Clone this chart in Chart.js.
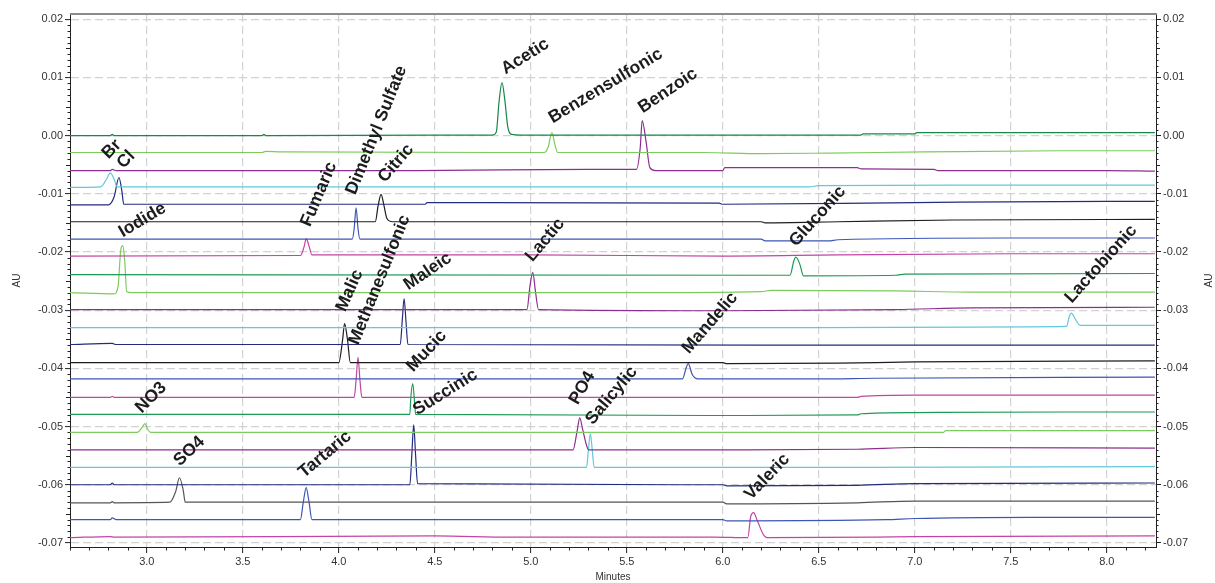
<!DOCTYPE html>
<html>
<head>
<meta charset="utf-8">
<script src="https://cdn.jsdelivr.net/npm/chart.js@4.4.1/dist/chart.umd.min.js"></script>
<style>
  html, body { margin: 0; padding: 0; background: #fff; }
  #chromChart { display: block; }
</style>
</head>
<body>
<canvas id="chromChart" width="1215" height="583" style="width:1215px;height:583px"></canvas>
<script>
// axis ticks
const xTicks = [3.0, 3.5, 4.0, 4.5, 5.0, 5.5, 6.0, 6.5, 7.0, 7.5, 8.0];
const yTicks = [0.02, 0.01, 0.00, -0.01, -0.02, -0.03, -0.04, -0.05, -0.06, -0.07];

// traces as [minutes, AU]
const acetic = [[2.6, 0.0], [2.81, 0.0], [2.82, 0.0002], [2.83, 0.0], [3.6, 0.0], [3.61, 0.0002], [3.62, 0.0], [4.80, 0.0001], [4.82, 0.0006], [4.835, 0.006], [4.85, 0.0091], [4.865, 0.006], [4.88, 0.0015], [4.9, 0.0002], [4.95, 0.0001], [6.72, 0.0001], [6.73, 0.0003], [7.0, 0.0003], [7.01, 0.0005], [8.25, 0.0005]];
const benzensulfonic = [[2.6, -0.0029], [3.6, -0.0029], [3.62, -0.0027], [3.7, -0.0028], [5.07, -0.0029], [5.09, -0.002], [5.11, 0.0005], [5.125, -0.0015], [5.14, -0.0029], [5.9, -0.0029], [6.2, -0.0031], [6.55, -0.003], [7.05, -0.0028], [7.75, -0.0026], [8.25, -0.0026]];
const benzoic = [[2.6, -0.006], [2.81, -0.006], [2.82, -0.0058], [2.84, -0.006], [4.4, -0.006], [5.3, -0.0058], [5.55, -0.0058], [5.57, -0.002], [5.58, 0.0026], [5.6, -0.001], [5.62, -0.0055], [5.65, -0.006], [6.0, -0.006], [6.01, -0.0055], [6.7, -0.0055], [6.72, -0.0057], [7.1, -0.0058], [7.12, -0.006], [8.0, -0.006], [8.25, -0.0061]];
const br = [[2.6, -0.0089], [2.76, -0.0088], [2.79, -0.0075], [2.81, -0.0064], [2.83, -0.0075], [2.845, -0.0088], [4.5, -0.0088], [6.45, -0.0088], [6.5, -0.0086], [7.2, -0.0085], [8.25, -0.0085]];
const cl = [[2.6, -0.0119], [2.8, -0.0119], [2.83, -0.0105], [2.855, -0.0072], [2.87, -0.0095], [2.88, -0.0118], [4.45, -0.0118], [4.46, -0.0115], [5.98, -0.0116], [6.0, -0.0118], [7.0, -0.0115], [8.0, -0.0113], [8.25, -0.0113]];
const citric = [[2.6, -0.0148], [4.19, -0.0148], [4.205, -0.012], [4.22, -0.0101], [4.235, -0.012], [4.25, -0.0142], [4.28, -0.0148], [6.2, -0.0148], [6.22, -0.015], [6.6, -0.0148], [7.2, -0.0145], [8.25, -0.0144]];
const dimethylSulfate = [[2.6, -0.0178], [4.07, -0.0178], [4.08, -0.016], [4.09, -0.0124], [4.1, -0.016], [4.11, -0.0178], [6.2, -0.0178], [6.22, -0.0181], [6.55, -0.0181], [6.6, -0.0179], [7.5, -0.0176], [8.25, -0.0176]];
const fumaric = [[2.6, -0.0207], [3.8, -0.0206], [3.82, -0.019], [3.83, -0.0177], [3.845, -0.019], [3.86, -0.0205], [5.0, -0.0205], [6.0, -0.0207], [6.6, -0.0205], [7.5, -0.0203], [8.25, -0.0203]];
const gluconic = [[2.6, -0.0239], [6.35, -0.024], [6.37, -0.0215], [6.38, -0.0209], [6.40, -0.022], [6.42, -0.0241], [6.9, -0.024], [6.95, -0.0238], [8.25, -0.0237]];
const iodide = [[2.6, -0.027], [2.83, -0.0272], [2.85, -0.026], [2.865, -0.0195], [2.875, -0.0189], [2.885, -0.0215], [2.895, -0.0268], [2.92, -0.027], [5.5, -0.027], [6.2, -0.0268], [6.25, -0.0266], [6.9, -0.0267], [7.3, -0.0269], [8.25, -0.0269]];
const lactic = [[2.6, -0.0299], [4.98, -0.0299], [4.995, -0.026], [5.01, -0.0235], [5.025, -0.027], [5.04, -0.0299], [6.0, -0.0301], [6.9, -0.0299], [7.3, -0.0296], [8.25, -0.0295]];
const lactobionic = [[2.6, -0.033], [6.5, -0.033], [7.3, -0.0329], [7.79, -0.0328], [7.805, -0.031], [7.815, -0.0305], [7.84, -0.0318], [7.86, -0.0326], [8.25, -0.0326]];
const maleic = [[2.6, -0.0359], [2.82, -0.0357], [2.84, -0.0359], [4.32, -0.0359], [4.33, -0.032], [4.34, -0.028], [4.35, -0.032], [4.36, -0.0359], [6.8, -0.036], [8.25, -0.036]];
const malic = [[2.6, -0.039], [4.0, -0.039], [4.02, -0.035], [4.03, -0.0323], [4.045, -0.035], [4.06, -0.039], [6.0, -0.039], [6.02, -0.0392], [6.6, -0.0391], [7.0, -0.0389], [8.25, -0.0387]];
const mandelic = [[2.6, -0.0418], [5.79, -0.0418], [5.81, -0.0398], [5.82, -0.0392], [5.84, -0.041], [5.87, -0.0418], [6.5, -0.0418], [6.8, -0.0417], [8.25, -0.0415]];
const methanesulfonic = [[2.6, -0.045], [2.81, -0.045], [2.82, -0.0448], [2.83, -0.045], [4.08, -0.045], [4.09, -0.042], [4.10, -0.0381], [4.11, -0.042], [4.12, -0.045], [6.7, -0.045], [6.72, -0.0448], [7.0, -0.0446], [8.25, -0.0446]];
const mucic = [[2.6, -0.0479], [4.37, -0.0479], [4.375, -0.045], [4.385, -0.0426], [4.395, -0.046], [4.4, -0.0479], [6.0, -0.0481], [6.7, -0.048], [6.72, -0.0478], [7.0, -0.0476], [7.8, -0.0475], [8.25, -0.0475]];
const no3 = [[2.6, -0.051], [2.95, -0.051], [2.975, -0.0502], [2.99, -0.0495], [3.005, -0.0505], [3.02, -0.051], [7.15, -0.051], [7.16, -0.0507], [8.25, -0.0507]];
const po4 = [[2.6, -0.054], [5.22, -0.054], [5.24, -0.051], [5.255, -0.0485], [5.27, -0.0505], [5.29, -0.0532], [5.3, -0.054], [6.0, -0.054], [6.7, -0.0539], [7.0, -0.0536], [8.25, -0.0537]];
const salicylic = [[2.6, -0.057], [5.29, -0.057], [5.3, -0.054], [5.31, -0.0512], [5.32, -0.054], [5.33, -0.057], [6.7, -0.057], [8.25, -0.0569]];
const succinic = [[2.6, -0.06], [2.81, -0.06], [2.82, -0.0597], [2.83, -0.06], [4.37, -0.06], [4.38, -0.055], [4.39, -0.0497], [4.40, -0.055], [4.41, -0.0598], [6.0, -0.06], [6.02, -0.0602], [6.7, -0.0601], [7.0, -0.0598], [8.25, -0.0597]];
const so4 = [[2.6, -0.0631], [2.81, -0.0631], [2.82, -0.0629], [2.83, -0.0631], [3.12, -0.063], [3.15, -0.0612], [3.17, -0.0588], [3.19, -0.061], [3.2, -0.063], [6.0, -0.063], [6.02, -0.0633], [6.7, -0.0631], [7.0, -0.0628], [8.25, -0.0628]];
const tartaric = [[2.6, -0.066], [2.81, -0.066], [2.82, -0.0657], [2.84, -0.066], [3.8, -0.066], [3.815, -0.063], [3.83, -0.0605], [3.845, -0.063], [3.86, -0.066], [6.0, -0.066], [6.02, -0.0662], [6.85, -0.066], [7.0, -0.0658], [7.6, -0.0656], [8.25, -0.0656]];
const valeric = [[2.6, -0.0691], [2.81, -0.0689], [2.83, -0.069], [4.5, -0.0688], [4.9, -0.069], [5.95, -0.069], [6.13, -0.0691], [6.145, -0.0655], [6.16, -0.0648], [6.18, -0.0662], [6.21, -0.0685], [6.23, -0.0691], [6.8, -0.069], [7.0, -0.0689], [8.25, -0.0688]];

const traces = [acetic, benzensulfonic, benzoic, br, cl, citric, dimethylSulfate, fumaric,
  gluconic, iodide, lactic, lactobionic, maleic, malic, mandelic, methanesulfonic,
  mucic, no3, po4, salicylic, succinic, so4, tartaric, valeric];
const names = ['Acetic', 'Benzensulfonic', 'Benzoic', 'Br', 'Cl', 'Citric', 'Dimethyl Sulfate', 'Fumaric',
  'Gluconic', 'Iodide', 'Lactic', 'Lactobionic', 'Maleic', 'Malic', 'Mandelic', 'Methanesulfonic',
  'Mucic', 'NO3', 'PO4', 'Salicylic', 'Succinic', 'SO4', 'Tartaric', 'Valeric'];

// where each peak name starts (minutes, AU) and its slant in degrees
const labelX = [4.868, 5.114, 5.583, 2.8, 2.878, 4.24, 4.086, 3.85, 6.382, 2.875, 5.009, 7.817,
  4.362, 4.033, 5.824, 4.101, 4.388, 2.974, 5.244, 5.323, 4.409, 3.172, 3.819, 6.147];
const labelY = [0.0105, 0.0021, 0.0038, -0.0041, -0.0058, -0.0082, -0.0103, -0.0158, -0.0192, -0.0175, -0.0218, -0.0289,
  -0.0266, -0.0304, -0.0376, -0.0361, -0.0407, -0.0478, -0.0464, -0.0498, -0.0481, -0.0569, -0.0589, -0.0627];
const labelAngle = [-32, -31, -34, -46, -46, -49, -68, -67, -48, -31, -50, -48,
  -34, -66, -49, -68, -47, -45, -60, -50, -32, -43, -40, -46];

const palette = ['#17874a', '#7dcb5e', '#8b2f8f', '#62c8dc', '#232c7c', '#1e1e1e', '#3d55b5', '#c244a6',
  '#1f9a55', '#7dcb5e', '#8b2f8f', '#62c8dc', '#232c7c', '#1e1e1e', '#3d55b5', '#c244a6',
  '#1f9a55', '#7dcb5e', '#8b2f8f', '#62c8dc', '#232c7c', '#555555', '#3d55b5', '#c244a6'];

const FONT = "'Liberation Sans', Arial, sans-serif";
Chart.defaults.font.family = FONT;
Chart.defaults.color = '#333';

// minor ticks, top frame and right axis title
const frameExtras = {
  id: 'frameExtras',
  afterDraw(chart) {
    const { ctx, chartArea: a, scales: { x, y } } = chart;
    ctx.save();
    ctx.strokeStyle = '#222';
    ctx.lineWidth = 1;
    ctx.beginPath();
    for (let i = -70; i <= 20; i++) {
      if (i % 10 === 0) continue;
      const py = Math.round(y.getPixelForValue(i / 1000)) + 0.5;
      const len = i % 5 === 0 ? 4 : 2.5;
      ctx.moveTo(a.left - len, py); ctx.lineTo(a.left, py);
      ctx.moveTo(a.right, py); ctx.lineTo(a.right + len, py);
    }
    for (let i = 26; i <= 82; i++) {
      if (i % 5 === 0) continue;
      const px = Math.round(x.getPixelForValue(i / 10)) + 0.5;
      ctx.moveTo(px, a.bottom); ctx.lineTo(px, a.bottom + 3.5);
    }
    ctx.stroke();

    ctx.strokeStyle = '#8a8a8a';
    ctx.lineWidth = 2;
    ctx.beginPath();
    ctx.moveTo(a.left, a.top);
    ctx.lineTo(a.right + 1, a.top);
    ctx.stroke();

    ctx.fillStyle = '#333';
    ctx.font = '10px ' + FONT;
    ctx.textAlign = 'center';
    ctx.textBaseline = 'middle';
    ctx.translate(1209, (a.top + a.bottom) / 2);
    ctx.rotate(-Math.PI / 2);
    ctx.fillText('AU', 0, 0);
    ctx.restore();
  }
};

// slanted peak names
const peakNames = {
  id: 'peakNames',
  afterDatasetsDraw(chart) {
    const { ctx, scales: { x, y } } = chart;
    ctx.save();
    ctx.fillStyle = '#1c1c1c';
    ctx.font = 'bold 17.5px ' + FONT;
    ctx.textAlign = 'left';
    ctx.textBaseline = 'alphabetic';
    names.forEach((name, i) => {
      ctx.save();
      ctx.translate(x.getPixelForValue(labelX[i]), y.getPixelForValue(labelY[i]));
      ctx.rotate(labelAngle[i] * Math.PI / 180);
      ctx.fillText(name, 0, 0);
      ctx.restore();
    });
    ctx.restore();
  }
};

const ctx = document.getElementById('chromChart').getContext('2d');
new Chart(ctx, {
  type: 'line',
  data: {
    datasets: traces.map((t, i) => ({
      label: names[i],
      data: t.map(p => ({ x: p[0], y: p[1] })),
      borderColor: palette[i],
      borderWidth: 1.2,
      pointRadius: 0,
      fill: false,
      cubicInterpolationMode: 'monotone'
    }))
  },
  options: {
    responsive: false,
    animation: false,
    devicePixelRatio: 1,
    layout: { padding: { top: 14 } },
    plugins: { legend: { display: false }, tooltip: { enabled: false } },
    scales: {
      x: {
        type: 'linear',
        min: 2.6,
        max: 8.256,
        afterBuildTicks: s => { s.ticks = xTicks.map(v => ({ value: v })); },
        afterFit: s => { s.height = 36; },
        ticks: { autoSkip: false, maxRotation: 0, padding: 2, font: { size: 11 }, color: '#333', callback: v => v.toFixed(1) },
        grid: { color: '#d2d2d2', lineWidth: 1.2, tickColor: '#222', tickLength: 6, tickWidth: 1 },
        border: { color: '#222', width: 1, dash: [8, 4] },
        title: { display: true, text: 'Minutes', font: { size: 10 }, color: '#333', padding: { top: 0, bottom: 0 } }
      },
      y: {
        type: 'linear',
        position: 'left',
        min: -0.0707,
        max: 0.0209,
        afterBuildTicks: s => { s.ticks = yTicks.map(v => ({ value: v })); },
        afterFit: s => { s.width = 70; },
        ticks: { autoSkip: false, padding: 2, font: { size: 11 }, color: '#333', callback: v => v.toFixed(2) },
        grid: { color: '#d2d2d2', lineWidth: 1.2, tickColor: '#222', tickLength: 5, tickWidth: 1 },
        border: { color: '#222', width: 1, dash: [8, 4] },
        title: { display: true, text: 'AU', font: { size: 10 }, color: '#333', padding: { top: 11, bottom: 0 } }
      },
      y2: {
        type: 'linear',
        position: 'right',
        min: -0.0707,
        max: 0.0209,
        afterBuildTicks: s => { s.ticks = yTicks.map(v => ({ value: v })); },
        afterFit: s => { s.width = 59; },
        ticks: { autoSkip: false, padding: 2, font: { size: 11 }, color: '#333', callback: v => v.toFixed(2) },
        grid: { drawOnChartArea: false, tickColor: '#222', tickLength: 5, tickWidth: 1 },
        border: { color: '#222', width: 1 }
      }
    }
  },
  plugins: [frameExtras, peakNames]
});
</script>
</body>
</html>
